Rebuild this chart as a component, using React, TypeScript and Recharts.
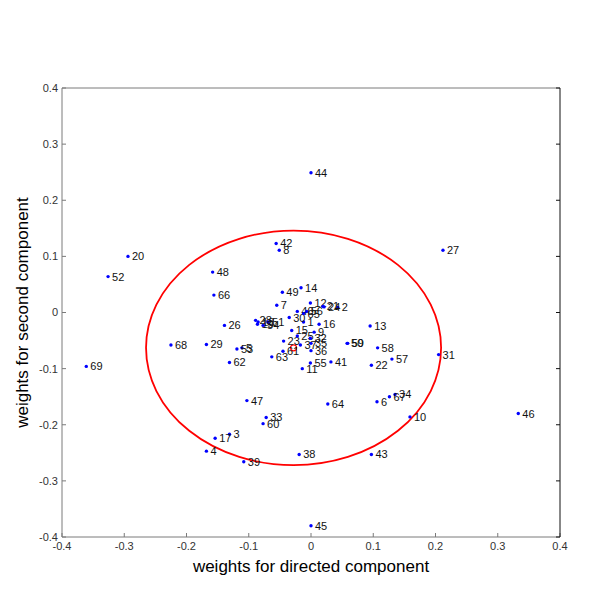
import { ScatterChart, Scatter, XAxis, YAxis, ReferenceArea, ReferenceDot } from 'recharts';

// point ids 1..69, weights
const IDS = Array.from({ length: 69 }, (_, i) => i + 1);

const DIRECTED = [
  -0.012, 0.043, -0.131, -0.168, -0.111, 0.106, -0.055, -0.051, 0.005, 0.159,
  -0.014, -0.001, 0.095, -0.016, -0.031, 0.013, -0.154, -0.085, -0.086, -0.294,
  0.019, 0.097, -0.044, 0.021, -0.022, -0.139, 0.212, -0.089, -0.168, -0.035,
  0.205, -0.001, -0.072, 0.135, 0.0, 0.0, -0.017, -0.019, -0.108, -0.022,
  0.032, -0.056, 0.097, 0.0, 0.0, 0.333, -0.103, -0.158, -0.046, 0.058,
  -0.069, -0.326, -0.119, -0.077, -0.001, -0.007, 0.13, 0.107, 0.059, -0.077,
  -0.045, -0.131, -0.063, 0.027, -0.012, -0.156, 0.126, -0.225, -0.361,
];

const SECOND = [
  -0.017, 0.009, -0.217, -0.247, -0.063, -0.159, 0.013, 0.111, -0.035, -0.186,
  -0.1, 0.017, -0.024, 0.044, -0.032, -0.021, -0.224, -0.017, -0.021, 0.1,
  0.011, -0.094, -0.051, 0.01, -0.042, -0.023, 0.111, -0.014, -0.057, -0.009,
  -0.075, -0.046, -0.187, -0.146, -0.055, -0.068, -0.058, -0.253, -0.266, 0.002,
  -0.088, 0.123, -0.253, 0.249, -0.38, -0.18, -0.157, 0.072, 0.036, -0.055,
  -0.017, 0.064, -0.065, -0.023, -0.09, 0.002, -0.083, -0.063, -0.055, -0.198,
  -0.069, -0.089, -0.079, -0.163, -0.002, 0.031, -0.15, -0.058, -0.096,
];

const TICKS = [-0.4, -0.3, -0.2, -0.1, 0, 0.1, 0.2, 0.3, 0.4];

// confidence ellipse: centre and half-axes
const ELLIPSE_CENTER = [-0.028, -0.063];
const ELLIPSE_HALF = [0.237, 0.209];

const POINTS = IDS.map((id, i) => ({ id, x: DIRECTED[i], y: SECOND[i] }));

const FONT = 'Arial, "Liberation Sans", sans-serif';
const tickStyle = { fontSize: 11, fill: '#333', fontFamily: FONT };
const titleStyle = { fontSize: 17, fill: '#000', fontFamily: FONT };
const fmt = (v: number) => (v === 0 ? '0' : String(v));

function PointMark(props: any) {
  const { cx, cy, payload } = props;
  return (
    <g>
      <circle cx={cx} cy={cy} r={1.7} fill="#0000ff" />
      <text x={cx + 4} y={cy + 4} fontSize={11} fontFamily={FONT} fill="#111">{payload.id}</text>
    </g>
  );
}

function EllipseShape(props: any) {
  const { x, y, width, height } = props;
  return (
    <ellipse cx={x + width / 2} cy={y + height / 2} rx={width / 2} ry={height / 2}
      fill="none" stroke="#f00" strokeWidth={1.8} />
  );
}

export default function App() {
  return (
    <div style={{ position: 'absolute', left: 0, top: 0, width: 600, height: 600, background: '#fff' }}>
      <ScatterChart width={600} height={600} margin={{ top: 83, right: 35, bottom: 13, left: 7 }}>
        <XAxis
          xAxisId="b" type="number" dataKey="x" domain={[-0.4, 0.4]} ticks={TICKS} allowDataOverflow
          height={50} tickSize={-4} tickMargin={9} tickFormatter={fmt} tick={tickStyle}
          stroke="#7a7a7a"
          label={{ value: 'weights for directed component', position: 'insideBottom', offset: 15, style: titleStyle }}
        />
        <XAxis
          xAxisId="t" orientation="top" type="number" domain={[-0.4, 0.4]} ticks={TICKS} allowDataOverflow
          height={5} tickSize={-4} tickFormatter={() => ''} stroke="#7a7a7a" tickLine={{ stroke: '#000' }}
        />
        <YAxis
          yAxisId="l" type="number" dataKey="y" domain={[-0.4, 0.4]} ticks={TICKS} allowDataOverflow
          width={55} tickSize={-4} tickMargin={8} tickFormatter={fmt} tick={tickStyle}
          stroke="#7a7a7a"
          label={{ value: 'weights for second component', angle: -90, position: 'insideLeft', offset: 15, style: { ...titleStyle, textAnchor: 'middle' } }}
        />
        <YAxis
          yAxisId="r" orientation="right" type="number" domain={[-0.4, 0.4]} ticks={TICKS} allowDataOverflow
          width={5} tickSize={-4} tickFormatter={() => ''} stroke="#111"
        />
        <ReferenceArea
          xAxisId="b" yAxisId="l"
          x1={ELLIPSE_CENTER[0] - ELLIPSE_HALF[0]} x2={ELLIPSE_CENTER[0] + ELLIPSE_HALF[0]}
          y1={ELLIPSE_CENTER[1] - ELLIPSE_HALF[1]} y2={ELLIPSE_CENTER[1] + ELLIPSE_HALF[1]}
          shape={EllipseShape}
        />
        <ReferenceDot xAxisId="b" yAxisId="l" x={ELLIPSE_CENTER[0]} y={ELLIPSE_CENTER[1]} r={3} fill="none" stroke="#f00" strokeWidth={1.2} />
        <Scatter xAxisId="b" yAxisId="l" data={POINTS} shape={PointMark} isAnimationActive={false} />
      </ScatterChart>
    </div>
  );
}
